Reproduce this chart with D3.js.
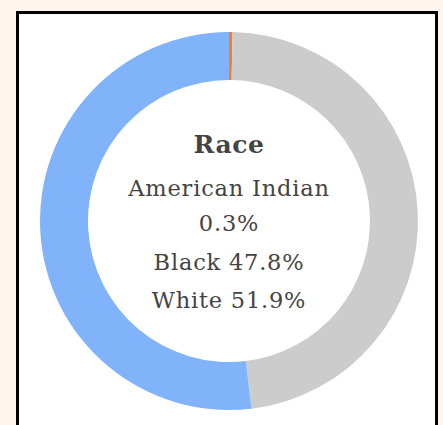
<!DOCTYPE html>
<html>
<head>
<meta charset="utf-8">
<script src="https://d3js.org/d3.v7.min.js"></script>
<style>
  html, body { margin: 0; padding: 0; background: #fcf4ed; }
  svg { display: block; }
</style>
</head>
<body>
<script>
// chart data
var categories = ["American Indian", "Black", "White"];
var values     = [0.3, 47.8, 51.9];
var colors     = ["#f0802c", "#cccccc", "#80b3fa"];
var title      = "Race";
var labelLines = ["American Indian", "0.3%", "Black 47.8%", "White 51.9%"];

var W = 443, H = 425;
var cx = 229, cy = 221, rOuter = 189, rInner = 141;

var svg = d3.select("body").append("svg")
    .attr("width", W).attr("height", H);

// card with black border (runs off the bottom)
svg.append("rect")
    .attr("x", 17.5).attr("y", 12.5)
    .attr("width", 419).attr("height", 480)
    .attr("fill", "#ffffff")
    .attr("stroke", "#000")
    .attr("stroke-width", 3);

var pie = d3.pie().sort(null).value(function (d) { return d; });
var arc = d3.arc().innerRadius(rInner).outerRadius(rOuter);
var color = d3.scaleOrdinal().domain(categories).range(colors);

var g = svg.append("g").attr("transform", "translate(" + cx + "," + cy + ")");
g.selectAll("path")
    .data(pie(values))
    .enter().append("path")
    .attr("d", arc)
    .attr("fill", function (d, i) { return color(categories[i]); });

// center text
var font = "'DejaVu Serif', 'Liberation Serif', serif";
g.append("text")
    .attr("x", 0).attr("y", 153 - cy)
    .attr("text-anchor", "middle")
    .attr("font-family", font)
    .attr("font-weight", "bold")
    .attr("font-size", 25)
    .attr("letter-spacing", 0.6)
    .attr("fill", "#444")
    .text(title);

var baselines = [196, 231, 270, 308];
g.selectAll("text.line")
    .data(labelLines)
    .enter().append("text")
    .attr("class", "line")
    .attr("x", 0)
    .attr("y", function (d, i) { return baselines[i] - cy; })
    .attr("text-anchor", "middle")
    .attr("font-family", font)
    .attr("font-size", 22.5)
    .attr("letter-spacing", 0.8)
    .attr("fill", "#444")
    .text(function (d) { return d; });
</script>
</body>
</html>
